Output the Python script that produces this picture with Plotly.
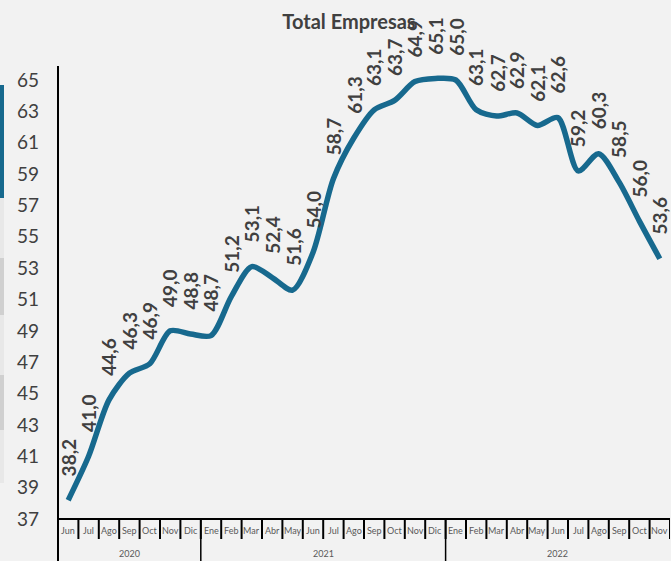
import plotly.graph_objects as go

years = ["2020", "2021", "2022"]
year_counts = [7, 12, 11]
months = ["Jun", "Jul", "Ago", "Sep", "Oct", "Nov", "Dic",
          "Ene", "Feb", "Mar", "Abr", "May", "Jun", "Jul", "Ago", "Sep", "Oct", "Nov", "Dic",
          "Ene", "Feb", "Mar", "Abr", "May", "Jun", "Jul", "Ago", "Sep", "Oct", "Nov"]
values = [38.2, 41.0, 44.6, 46.3, 46.9, 49.0, 48.8,
          48.7, 51.2, 53.1, 52.4, 51.6, 54.0, 58.7, 61.3, 63.1, 63.7, 64.9, 65.1,
          65.0, 63.1, 62.7, 62.9, 62.1, 62.6, 59.2, 60.3, 58.5, 56.0, 53.6]
y_ticks = list(range(37, 66, 2))
title_text = "Total Empresas"

W, H = 671, 561
L, R, T, B = 58, 1, 62, 42
LINE = "#17698e"
TXT = "#404040"
FONT = "Lato"

xs = list(range(len(values)))

fig = go.Figure()
fig.add_trace(go.Scatter(
    x=xs, y=values, mode="lines",
    line=dict(color=LINE, width=5.5, shape="spline", smoothing=0.8),
    hoverinfo="skip", showlegend=False))

for i, v in enumerate(values):
    fig.add_annotation(x=i, y=v, xref="x", yref="y",
                       text="<b>" + f"{v:.1f}".replace(".", ",") + "</b>",
                       textangle=-90, showarrow=False,
                       yanchor="bottom", xanchor="center", yshift=22,
                       font=dict(family=FONT, size=19, color=TXT))

pw, ph = W - L - R, H - T - B
def px(xp):
    return (xp - L) / pw
def py(yp):
    return (H - B - yp) / ph

# month labels
for i, m in enumerate(months):
    fig.add_annotation(x=i, y=py(530), xref="x", yref="paper", text=m,
                       showarrow=False, xanchor="center", yanchor="middle",
                       font=dict(family=FONT, size=9, color="#595959"))

shapes = []
# month separators
for i in range(len(months) + 1):
    shapes.append(dict(type="line", xref="x", yref="paper",
                       x0=i - 0.5, x1=i - 0.5, y0=py(539), y1=0,
                       line=dict(color="black", width=2)))
# year labels and dividers
start = 0
bounds = [0]
for yname, cnt in zip(years, year_counts):
    fig.add_annotation(x=start + (cnt - 1) / 2, y=py(553), xref="x", yref="paper",
                       text=yname, showarrow=False, xanchor="center", yanchor="middle",
                       font=dict(family=FONT, size=9, color="#595959"))
    start += cnt
    bounds.append(start)
for b in bounds[1:-1]:
    shapes.append(dict(type="line", xref="x", yref="paper",
                       x0=b - 0.5, x1=b - 0.5, y0=py(561), y1=0,
                       line=dict(color="black", width=1.5)))

# left edge decorative strips
strips = [(85, 198, LINE), (198, 258, "#e8e8e8"), (258, 315, "#d0d0d0"),
          (315, 375, "#e8e8e8"), (375, 430, "#d0d0d0"), (430, 483, "#e8e8e8")]
for y0, y1, c in strips:
    shapes.append(dict(type="rect", xref="paper", yref="paper",
                       x0=px(0), x1=px(4), y0=py(y1), y1=py(y0),
                       fillcolor=c, line=dict(width=0), layer="below"))
# left boundary line
shapes.append(dict(type="line", xref="paper", yref="paper",
                   x0=0, x1=0, y0=py(561), y1=py(66),
                   line=dict(color="black", width=2)))
# x axis line
shapes.append(dict(type="line", xref="paper", yref="paper",
                   x0=0, x1=1, y0=0, y1=0,
                   line=dict(color="black", width=2)))

fig.update_layout(
    width=W, height=H,
    margin=dict(l=L, r=R, t=T, b=B, pad=0),
    paper_bgcolor="#f2f2f2", plot_bgcolor="#f2f2f2",
    title=dict(text="<b>" + title_text + "</b>", x=349 / W, xanchor="center",
               y=1 - 22 / H, yanchor="middle",
               font=dict(family=FONT, size=20, color=TXT)),
    shapes=shapes,
    xaxis=dict(range=[-0.5, 29.5], showgrid=False, zeroline=False,
               showline=False, showticklabels=False, ticks="", automargin=False),
    yaxis=dict(range=[37, 37 + (519 - 62) / (439 / 28)], tickvals=y_ticks,
               showgrid=False, zeroline=False, showline=False,
               ticks="", ticklabelstandoff=18, automargin=False,
               tickfont=dict(family=FONT, size=19, color=TXT)),
)

fig.write_html("out.html",
               config={"displayModeBar": False},
               post_script="document.body.style.margin='0';document.body.style.background='#f2f2f2';")
